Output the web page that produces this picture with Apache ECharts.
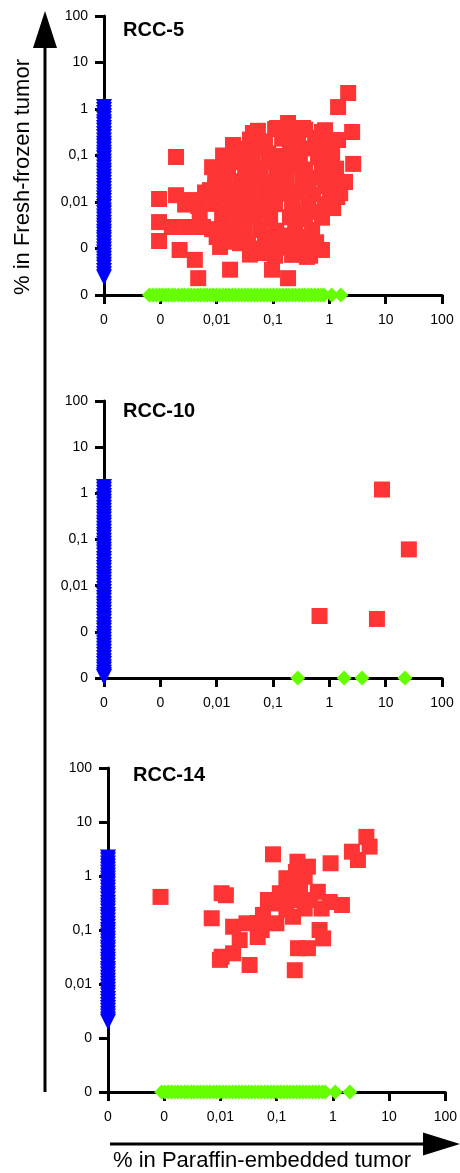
<!DOCTYPE html>
<html>
<head>
<meta charset="utf-8">
<script src="https://cdn.jsdelivr.net/npm/echarts@6/dist/echarts.min.js"></script>
<style>
  html, body { margin: 0; padding: 0; background: #fff; }
  #chart { width: 460px; height: 1173px; }
</style>
</head>
<body>
<div id="chart"></div>
<script>
// "0" values are drawn on the axis floor
const ZERO = 0.0001;
const tickLabels = ['0', '0', '0,01', '0,1', '1', '10', '100'];
const panelTitles = ['RCC-5', 'RCC-10', 'RCC-14'];

// blue: found in fresh-frozen only (x = 0), y values
const rcc5Blue = [1.1, 0.95, 0.82, 0.71, 0.62, 0.52, 0.46, 0.39, 0.34, 0.29, 0.25, 0.21, 0.18, 0.156, 0.135, 0.115,
  0.1, 0.087, 0.074, 0.064, 0.055, 0.047, 0.041, 0.035, 0.03, 0.026, 0.022, 0.019, 0.0163, 0.014, 0.012, 0.0105,
  0.009, 0.0078, 0.0066, 0.0057, 0.0049, 0.0042, 0.0036, 0.0031, 0.0027, 0.0023, 0.002, 0.0017, 0.0015, 0.0013,
  0.0011, 0.00095, 0.00082, 0.0007, 0.0006, 0.00052, 0.00045, 0.00039, 0.00033, 0.00028, 0.00024];
const rcc10Blue = [1.38, 1.2, 1.03, 0.88, 0.76, 0.66, 0.57, 0.49, 0.42, 0.36, 0.31, 0.27, 0.23, 0.2, 0.17, 0.148,
  0.127, 0.11, 0.094, 0.081, 0.07, 0.06, 0.052, 0.045, 0.038, 0.033, 0.028, 0.024, 0.021, 0.018, 0.0155, 0.0134,
  0.0115, 0.0099, 0.0085, 0.0073, 0.0063, 0.0054, 0.0047, 0.004, 0.0035, 0.003, 0.0026, 0.0022, 0.0019, 0.00165,
  0.0014, 0.0012, 0.00105, 0.0009, 0.00078, 0.00067, 0.00058, 0.0005, 0.00043, 0.00037, 0.00032, 0.00027,
  0.00023, 0.0002, 0.00017, 0.00015, 0.00013, 0.000115, 0.000105];
const rcc14Blue = [2.2, 1.95, 1.7, 1.5, 1.32, 1.16, 1.02, 0.9, 0.79, 0.7, 0.61, 0.54, 0.47, 0.42, 0.37, 0.32, 0.28,
  0.25, 0.22, 0.19, 0.17, 0.15, 0.13, 0.115, 0.1, 0.09, 0.079, 0.069, 0.061, 0.054, 0.047, 0.042, 0.037, 0.032,
  0.028, 0.025, 0.022, 0.019, 0.017, 0.015, 0.013, 0.0115, 0.0101, 0.0089, 0.0078, 0.0069, 0.0061, 0.0053,
  0.0047, 0.0041, 0.0036, 0.0032, 0.0028, 0.0025, 0.0022, 0.002];

// green: found in paraffin only (y = 0), x values
const rcc5Green = [0.00064, 0.00075, 0.00085, 0.00097, 0.0011, 0.00125, 0.0014, 0.0016, 0.0018, 0.0021, 0.0024,
  0.0027, 0.0031, 0.0035, 0.004, 0.0046, 0.0052, 0.0059, 0.0067, 0.0077, 0.0087, 0.0099, 0.0113, 0.0129, 0.0147,
  0.0167, 0.019, 0.0216, 0.0246, 0.028, 0.032, 0.036, 0.041, 0.047, 0.053, 0.061, 0.069, 0.079, 0.09, 0.102,
  0.116, 0.132, 0.15, 0.171, 0.195, 0.22, 0.25, 0.29, 0.33, 0.37, 0.42, 0.48, 0.55, 0.63, 0.72, 0.8, 1.1, 1.6];
const rcc10Green = [0.275, 1.83, 3.8, 22];
const rcc14Green = [0.0009, 0.00103, 0.00118, 0.00135, 0.00154, 0.00175, 0.002, 0.0023, 0.0026, 0.003, 0.0034,
  0.0039, 0.0044, 0.005, 0.0057, 0.0065, 0.0075, 0.0085, 0.0097, 0.011, 0.0126, 0.0144, 0.0164, 0.0187, 0.0213,
  0.0243, 0.0277, 0.0316, 0.036, 0.041, 0.047, 0.053, 0.061, 0.069, 0.079, 0.09, 0.103, 0.117, 0.134, 0.152,
  0.174, 0.198, 0.226, 0.257, 0.293, 0.334, 0.38, 0.435, 0.495, 0.565, 0.645, 0.73, 1.1, 2.0];

// red: found in both, [paraffin %, fresh-frozen %]
const rcc5Red = [
  [0.0019, 0.093], [0.00095, 0.0116], [0.00095, 0.0037], [0.00095, 0.00145],
  [2.16, 2.21], [1.43, 1.1], [2.54, 0.32], [2.65, 0.066],
  [0.0047, 0.00023], [0.0173, 0.00035], [0.096, 0.00035], [0.185, 0.00023],
  [0.0022, 0.00093], [0.0041, 0.00057], [0.4, 0.00066], [0.74, 0.00093], [0.067, 0.0008],
  [0.0034, 0.011], [0.0019, 0.014], [0.0016, 0.0029], [0.0057, 0.0029], [0.01, 0.00177],
  [0.0115, 0.00108], [0.026, 0.0013], [0.059, 0.00084], [0.044, 0.305], [0.0195, 0.168],
  [0.013, 0.1], [0.0094, 0.0345], [0.0076, 0.018], [0.003, 0.0029],
  [1.9, 0.027], [1.38, 0.0128], [1.17, 0.0074], [0.84, 0.35], [0.63, 0.186], [0.185, 0.5],
  [0.118, 0.39], [0.052, 0.305], [0.34, 0.39], [1.43, 0.215],
  [0.054, 0.34], [0.109, 0.37], [0.2, 0.33], [0.372, 0.36], [0.74, 0.32],
  [0.039, 0.22], [0.072, 0.2], [0.145, 0.23], [0.279, 0.21], [0.56, 0.24], [1.03, 0.2],
  [0.032, 0.14], [0.059, 0.145], [0.2, 0.138], [0.372, 0.142], [0.84, 0.135],
  [0.024, 0.105], [0.0426, 0.095], [0.082, 0.11], [0.151, 0.098], [0.257, 0.105], [0.63, 0.092], [1.12, 0.11],
  [0.021, 0.072], [0.089, 0.075], [0.3, 0.07], [1.03, 0.074],
  [0.0083, 0.056], [0.0159, 0.05], [0.032, 0.058], [0.059, 0.052], [0.114, 0.055], [0.2, 0.06], [0.372, 0.05],
  [0.74, 0.057], [1.32, 0.052],
  [0.0135, 0.031], [0.026, 0.028], [0.05, 0.032], [0.092, 0.027], [0.171, 0.031], [0.329, 0.029], [0.63, 0.033],
  [1.17, 0.028],
  [0.0094, 0.021], [0.032, 0.022], [0.109, 0.02], [0.42, 0.021], [0.84, 0.022],
  [0.0062, 0.016], [0.0115, 0.015], [0.022, 0.017], [0.039, 0.0148], [0.075, 0.016], [0.145, 0.0152],
  [0.268, 0.0165], [0.515, 0.0145], [1.03, 0.016], [1.56, 0.0155],
  [0.00275, 0.0088], [0.0047, 0.0082], [0.009, 0.0091], [0.0173, 0.0084], [0.032, 0.0088], [0.059, 0.0081],
  [0.109, 0.009], [0.218, 0.0085], [0.42, 0.0083], [0.84, 0.0089],
  [0.005, 0.0061], [0.0173, 0.006], [0.064, 0.0063], [0.279, 0.0059], [0.56, 0.0062],
  [0.0125, 0.0046], [0.024, 0.0043], [0.046, 0.0048], [0.089, 0.0044], [0.2, 0.0047], [0.372, 0.0043],
  [0.74, 0.0046],
  [0.0083, 0.0026], [0.0159, 0.0024], [0.0307, 0.0026], [0.059, 0.0025], [0.114, 0.0024], [0.247, 0.0026],
  [0.494, 0.0025],
  [0.022, 0.0019], [0.089, 0.00185], [0.2, 0.0019], [0.372, 0.0018],
  [0.0188, 0.0014], [0.036, 0.00135], [0.072, 0.0014], [0.134, 0.0013], [0.3, 0.00142], [0.583, 0.00136],
  [0.054, 0.001], [0.16, 0.00104], [0.456, 0.001],
  [0.039, 0.00074], [0.109, 0.0007], [0.218, 0.00073], [0.456, 0.0007]
];
const rcc10Red = [[8.6, 1.21], [25.8, 0.061], [0.67, 0.0022], [7.0, 0.0019]];
const rcc14Red = [
  [0.00086, 0.41], [0.0105, 0.48], [0.0125, 0.44], [0.007, 0.165], [0.0105, 0.032], [0.0098, 0.028],
  [0.0168, 0.115], [0.029, 0.133], [0.022, 0.065], [0.0168, 0.037], [0.033, 0.0225], [0.046, 0.135],
  [0.046, 0.074], [0.086, 2.52], [0.234, 1.84], [0.36, 1.49], [0.91, 1.72], [2.18, 2.82], [3.94, 5.3],
  [4.5, 3.5], [2.79, 1.98], [0.149, 0.91], [0.315, 0.97], [0.114, 0.48], [0.24, 0.48], [0.54, 0.51],
  [0.88, 0.33], [1.45, 0.29], [0.63, 0.25], [0.315, 0.25], [0.149, 0.234], [0.092, 0.31], [0.057, 0.19],
  [0.054, 0.1], [0.099, 0.133], [0.195, 0.176], [0.58, 0.1], [0.67, 0.07], [0.24, 0.046], [0.36, 0.046],
  [0.21, 0.018], [0.17, 0.68], [0.26, 0.68], [0.39, 0.36], [0.22, 1.19], [0.07, 0.36], [0.17, 0.36]
];

const FONT = 'Liberation Sans, Arial, Helvetica, sans-serif';
const panels = [
  { blue: rcc5Blue, green: rcc5Green, red: rcc5Red },
  { blue: rcc10Blue, green: rcc10Green, red: rcc10Red },
  { blue: rcc14Blue, green: rcc14Green, red: rcc14Red },
];
const grids = [
  { left: 104, top: 16, width: 338, height: 279 },
  { left: 104, top: 401, width: 338, height: 277 },
  { left: 108, top: 768, width: 338, height: 324 },
];
const titlePos = [[123, 20], [123, 401], [133, 765]];

function logAxis(gridIndex, margin) {
  return {
    type: 'log', logBase: 10, min: ZERO, max: 100, gridIndex,
    axisLine: { show: true, onZero: false, lineStyle: { color: '#000', width: 3 } },
    axisTick: { show: true, length: 9, lineStyle: { color: '#000', width: 3 } },
    splitLine: { show: false },
    minorTick: { show: false },
    axisLabel: {
      color: '#000', fontSize: 14, fontFamily: FONT, margin,
      showMinLabel: true, showMaxLabel: true,
      formatter: (v) => tickLabels[Math.round(Math.log10(v)) + 4],
    },
  };
}

const series = [];
panels.forEach((p, i) => {
  series.push({
    type: 'scatter', xAxisIndex: i, yAxisIndex: i, clip: false, silent: true,
    symbol: 'triangle', symbolRotate: 180, symbolSize: 16,
    itemStyle: { color: '#0000ff', opacity: 1 },
    data: p.blue.map((v) => [ZERO, v]),
  });
  series.push({
    type: 'scatter', xAxisIndex: i, yAxisIndex: i, clip: false, silent: true,
    symbol: 'diamond', symbolSize: 15,
    itemStyle: { color: '#66ff00', opacity: 1 },
    data: p.green.map((v) => [v, ZERO]),
  });
  series.push({
    type: 'scatter', xAxisIndex: i, yAxisIndex: i, clip: false, silent: true,
    symbol: 'rect', symbolSize: 16,
    itemStyle: { color: '#ff3535', opacity: 1 },
    data: p.red,
  });
});

const chart = echarts.init(document.getElementById('chart'));
chart.setOption({
  animation: false,
  backgroundColor: '#fff',
  title: panelTitles.map((t, i) => ({
    text: t, left: titlePos[i][0], top: titlePos[i][1], padding: 0,
    textStyle: { fontSize: 20, fontWeight: 'bold', color: '#000', fontFamily: FONT },
  })),
  grid: grids,
  xAxis: grids.map((g, i) => logAxis(i, 18)),
  yAxis: grids.map((g, i) => logAxis(i, 16)),
  series,
  graphic: [
    { type: 'line', shape: { x1: 45, y1: 40, x2: 45, y2: 1092 }, style: { stroke: '#000', lineWidth: 3 } },
    { type: 'polygon', shape: { points: [[45, 11], [33, 48], [57, 48]] }, style: { fill: '#000' } },
    { type: 'line', shape: { x1: 110, y1: 1144, x2: 430, y2: 1144 }, style: { stroke: '#000', lineWidth: 3 } },
    { type: 'polygon', shape: { points: [[460, 1144], [423, 1132.5], [423, 1155.5]] }, style: { fill: '#000' } },
    {
      type: 'text', x: 23, y: 177, rotation: Math.PI / 2,
      style: { text: '% in Fresh-frozen tumor', font: '22px ' + FONT, fill: '#000', align: 'center', verticalAlign: 'middle' },
    },
    {
      type: 'text', x: 262, y: 1161,
      style: { text: '% in Paraffin-embedded tumor', font: '22px ' + FONT, fill: '#000', align: 'center', verticalAlign: 'middle' },
    },
  ],
});
</script>
</body>
</html>
